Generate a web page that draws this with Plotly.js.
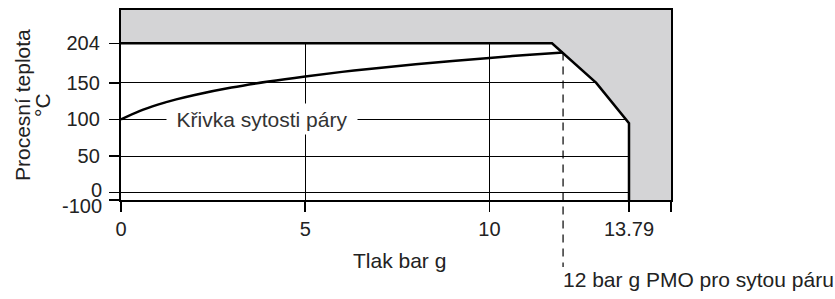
<!DOCTYPE html>
<html>
<head>
<meta charset="utf-8">
<script src="https://cdn.plot.ly/plotly-3.0.1.min.js"></script>
<style>html,body{margin:0;padding:0;background:#fff;}#chart{width:835px;height:299px;}</style>
</head>
<body>
<div id="chart"></div>
<script>
// Saturation curve (pressure bar g -> temperature °C)
var satPressure = [0, 0.5, 1, 1.5, 2, 3, 4, 5, 6, 7, 8, 9, 10, 11, 12];
var satTemp     = [100, 111.4, 120.2, 127.4, 133.5, 143.6, 151.8, 158.8, 165.0, 170.4, 175.4, 179.9, 184.1, 188.0, 191.6];

// Operating limit boundary
var limitPressure = [0, 11.7, 12.9, 13.79, 13.79];
var limitTemp     = [204, 204, 150, 95, -100];

// Axis ticks
var yTickVals  = [-100, 0, 50, 100, 150, 204];
var yTickText  = ['', '', '50', '100', '150', '204'];
var yLowLabels = ['0', '-100'];
var yLowVals   = [0, -100];
var xTickVals  = [0, 5, 10, 13.79, 14.93];
var xTickText  = ['0', '5', '10', '13.79', ''];

var pmoPressure = 12;
var pmoTemp = 191.6;

var xMin = 0, xMax = 14.93;
var yMinReal = -100, yMaxReal = 249.5;

// Scale break: values below 0 compressed
function mapY(v) { return v >= 0 ? v : v / 10; }

var yMin = mapY(yMinReal), yMax = mapY(yMaxReal);

// Gray region: outside boundary inside the frame
var grayX = [xMin].concat(limitPressure, [xMax, xMax, xMin, xMin]);
var grayY = [yMaxReal].concat(limitTemp, [yMinReal, yMaxReal, yMaxReal, yMaxReal]);

var font = "'Liberation Sans', Arial, sans-serif";
var txt = '#222';

var traces = [
  {
    x: grayX, y: grayY.map(mapY), mode: 'lines', fill: 'toself',
    fillcolor: '#d4d4d6', line: {width: 0}, hoverinfo: 'skip', showlegend: false
  },
  {
    x: limitPressure, y: limitTemp.map(mapY), mode: 'lines',
    line: {color: '#000', width: 2.5}, showlegend: false
  },
  {
    x: satPressure, y: satTemp.map(mapY), mode: 'lines',
    line: {color: '#000', width: 2.5, shape: 'spline'}, showlegend: false
  }
];

function paperY(v) { return (mapY(v) - yMin) / (yMax - yMin); }
function paperX(v) { return (v - xMin) / (xMax - xMin); }

var annotations = [
  {
    x: 3.82, y: mapY(100), xref: 'x', yref: 'y', text: 'Křivka sytosti páry',
    showarrow: false, bgcolor: '#fff', font: {family: font, size: 21, color: '#333'},
    borderpad: 0, width: 190, height: 30
  },
  {
    x: paperX(pmoPressure), y: -0.421, xref: 'paper', yref: 'paper',
    text: '12 bar g PMO pro sytou páru', showarrow: false,
    xanchor: 'left', yanchor: 'middle', xshift: -2,
    font: {family: font, size: 21, color: txt}
  },
  {
    x: 0.5, y: -0.316, xref: 'paper', yref: 'paper', text: 'Tlak bar g',
    showarrow: false, xanchor: 'center', yanchor: 'middle', xshift: 3,
    font: {family: font, size: 21, color: txt}
  },
  {
    x: 0, y: 0.5, xref: 'paper', yref: 'paper', text: 'Procesní teplota',
    showarrow: false, textangle: -90, xanchor: 'center', yanchor: 'middle', xshift: -99,
    font: {family: font, size: 21, color: txt}
  },
  {
    x: 0, y: 0.5, xref: 'paper', yref: 'paper', text: '°C',
    showarrow: false, textangle: -90, xanchor: 'center', yanchor: 'middle', xshift: -79,
    font: {family: font, size: 21, color: txt}
  }
];
var lowShift = [3, -6];
for (var i = 0; i < yLowLabels.length; i++) {
  annotations.push({
    x: 0, y: mapY(yLowVals[i]), xref: 'paper', yref: 'y', text: yLowLabels[i],
    showarrow: false, xanchor: 'right', yanchor: 'middle', xshift: -17, yshift: lowShift[i],
    font: {family: font, size: 20, color: txt}
  });
}

var layout = {
  width: 835, height: 299,
  margin: {l: 121, r: 164, t: 10, b: 99},
  paper_bgcolor: '#fff', plot_bgcolor: '#fff',
  font: {family: font, size: 20, color: txt},
  xaxis: {
    range: [xMin, xMax], tickvals: xTickVals, ticktext: xTickText,
    ticks: 'outside', ticklen: 10, tickwidth: 1.5, tickcolor: '#000',
    tickfont: {family: font, size: 20, color: txt},
    showgrid: true, gridcolor: '#000', gridwidth: 1, zeroline: false,
    showline: true, linecolor: '#000', linewidth: 2.2, mirror: true,
    fixedrange: true
  },
  yaxis: {
    range: [yMin, yMax], tickvals: yTickVals.map(mapY), ticktext: yTickText,
    ticks: 'outside', ticklen: 10, tickwidth: 1.5, tickcolor: '#000',
    tickfont: {family: font, size: 20, color: txt}, ticklabelstandoff: 5,
    showgrid: true, gridcolor: '#000', gridwidth: 1, zeroline: false,
    showline: true, linecolor: '#000', linewidth: 2.2, mirror: true,
    fixedrange: true
  },
  shapes: [
    {
      type: 'line', xref: 'paper', yref: 'paper',
      x0: paperX(pmoPressure), x1: paperX(pmoPressure),
      y0: paperY(pmoTemp), y1: -0.353,
      line: {color: '#000', width: 1.2, dash: '8px,6px'}
    }
  ],
  annotations: annotations
};

Plotly.newPlot('chart', traces, layout, {displayModeBar: false, staticPlot: true});
</script>
</body>
</html>
